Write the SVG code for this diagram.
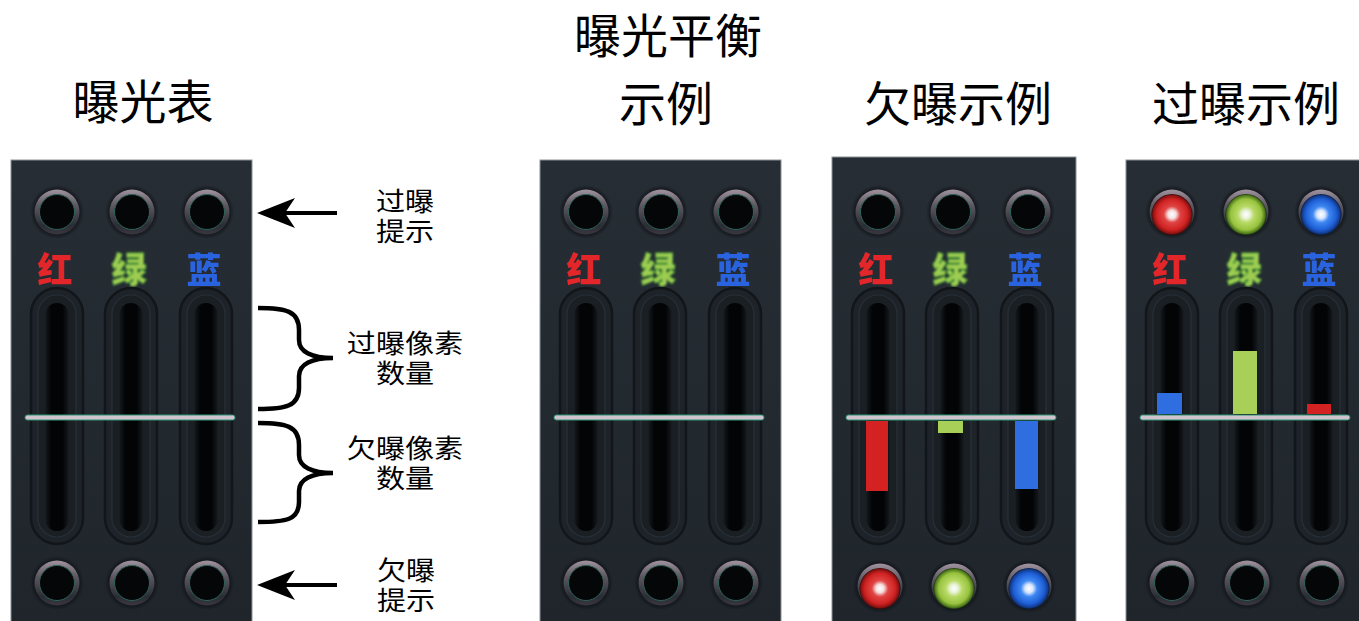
<svg xmlns="http://www.w3.org/2000/svg" xmlns:xlink="http://www.w3.org/1999/xlink" width="1359" height="621" viewBox="0 0 1359 621">
<style>
.title{font-family:"Noto Sans CJK SC","Noto Sans",sans-serif;font-size:47px;fill:#000;text-anchor:middle}
.side{font-family:"Liberation Sans","Noto Sans CJK SC",sans-serif;font-size:26px;fill:#000;text-anchor:middle}
.ch{font-family:"Noto Sans CJK SC",sans-serif;font-size:35px;font-weight:900;text-anchor:middle}
.panel{stroke:#8c9196;stroke-width:1}
.bar{filter:url(#soft)}
.conn{stroke:#000;fill:none}
</style>
<defs>
<linearGradient id="panelG" x1="0" y1="0" x2="0" y2="1">
<stop offset="0" stop-color="#262d34"/><stop offset="1" stop-color="#1f252b"/>
</linearGradient>
<radialGradient id="shadowG"><stop offset="0.75" stop-color="#0e1115"/><stop offset="1" stop-color="#0e1115" stop-opacity="0"/></radialGradient>
<linearGradient id="ringG" x1="0" y1="0" x2="0" y2="1">
<stop offset="0" stop-color="#a093a0"/><stop offset="0.35" stop-color="#5d5862"/><stop offset="0.8" stop-color="#2a2d35"/><stop offset="1" stop-color="#3a3640"/>
</linearGradient>
<linearGradient id="chanG" x1="0" y1="0" x2="1" y2="0">
<stop offset="0" stop-color="#15191e"/><stop offset="0.25" stop-color="#030405"/><stop offset="0.75" stop-color="#030405"/><stop offset="1" stop-color="#15191e"/>
</linearGradient>
<radialGradient id="litR"><stop offset="0" stop-color="#ffffff"/><stop offset="0.2" stop-color="#f4dede"/><stop offset="0.4" stop-color="#e04444"/><stop offset="0.75" stop-color="#d02222"/><stop offset="0.93" stop-color="#8a1212"/><stop offset="1" stop-color="#300808"/></radialGradient>
<radialGradient id="litG"><stop offset="0" stop-color="#ffffff"/><stop offset="0.2" stop-color="#e8f2d8"/><stop offset="0.4" stop-color="#b8da66"/><stop offset="0.75" stop-color="#98c23e"/><stop offset="0.93" stop-color="#4e7a1c"/><stop offset="1" stop-color="#1a300a"/></radialGradient>
<radialGradient id="litB"><stop offset="0" stop-color="#ffffff"/><stop offset="0.2" stop-color="#d8e6ff"/><stop offset="0.4" stop-color="#3e88f2"/><stop offset="0.75" stop-color="#1e5ed6"/><stop offset="0.93" stop-color="#123a8a"/><stop offset="1" stop-color="#08183a"/></radialGradient>
<filter id="soft" x="-20%" y="-20%" width="140%" height="140%"><feGaussianBlur stdDeviation="0.7"/></filter>
<filter id="glowG" x="-20%" y="-20%" width="140%" height="140%"><feGaussianBlur stdDeviation="0.8"/></filter>
<g id="ledOff">
<circle r="27" fill="url(#shadowG)"/>
<circle r="22.5" fill="url(#ringG)"/>
<circle r="17.5" fill="#050607" stroke="#2c6458" stroke-width="1"/>
</g>
<g id="ledR"><circle r="27" fill="url(#shadowG)"/><circle r="22.5" fill="url(#ringG)"/><circle cy="2.5" r="20.5" fill="url(#litR)"/></g>
<g id="ledG"><circle r="27" fill="url(#shadowG)"/><circle r="22.5" fill="url(#ringG)"/><circle cy="2.5" r="20.5" fill="url(#litG)"/></g>
<g id="ledB"><circle r="27" fill="url(#shadowG)"/><circle r="22.5" fill="url(#ringG)"/><circle cy="2.5" r="20.5" fill="url(#litB)"/></g>
<g id="slot">
<rect x="-26" y="288" width="52" height="256" rx="26" fill="#1d2329" stroke="#12161a" stroke-width="2.5"/>
<rect x="-19" y="295" width="38" height="242" rx="19" fill="#1a1f24" stroke="#283037" stroke-width="1.2"/>
<rect x="-11.5" y="303" width="23" height="228" rx="11.5" fill="url(#chanG)"/>
</g>
<g id="labels">
<text class="ch" x="55" y="283" fill="#e2282a" filter="url(#soft)">红</text>
<text class="ch" x="129" y="283" fill="#a2cc52" stroke="#4fb33a" stroke-width="0.8" filter="url(#glowG)">绿</text>
<text class="ch" x="204" y="283" fill="#2c64e0" filter="url(#soft)">蓝</text>
</g>
<g id="slots">
<use xlink:href="#slot" x="57"/><use xlink:href="#slot" x="131"/><use xlink:href="#slot" x="206"/>
</g>
<rect id="zero" x="25" y="415" width="210" height="5" rx="2.5" fill="#cfc3cd" stroke="#2f9474" stroke-width="1"/>
<marker id="arrowHead" markerUnits="userSpaceOnUse" markerWidth="40" markerHeight="32" viewBox="0 0 40 32" refX="30" refY="16" orient="auto">
<path d="M0,1 L38,16 L0,31 L10,16 Z" fill="#000"/>
</marker>
</defs>
<rect width="1359" height="621" fill="#fff"/>

<g id="titles">
<text class="title" x="143" y="119">曝光表</text>
<text class="title" x="668" y="53">曝光平衡</text>
<text class="title" x="666" y="121">示例</text>
<text class="title" x="958" y="121">欠曝示例</text>
<text class="title" x="1246" y="121">过曝示例</text>
</g>

<g id="panel-meter">
<rect class="panel" x="11" y="160" width="241" height="470" fill="url(#panelG)"/>
<use xlink:href="#ledOff" x="57" y="212"/><use xlink:href="#ledOff" x="132" y="212"/><use xlink:href="#ledOff" x="207" y="212"/>
<use xlink:href="#labels"/>
<use xlink:href="#slots"/>
<use xlink:href="#zero"/>
<use xlink:href="#ledOff" x="57" y="583"/><use xlink:href="#ledOff" x="132" y="583"/><use xlink:href="#ledOff" x="207" y="583"/>
</g>

<g id="panel-balanced" transform="translate(529,0)">
<rect class="panel" x="11" y="160" width="241" height="470" fill="url(#panelG)"/>
<use xlink:href="#ledOff" x="57" y="212"/><use xlink:href="#ledOff" x="132" y="212"/><use xlink:href="#ledOff" x="207" y="212"/>
<use xlink:href="#labels"/>
<use xlink:href="#slots"/>
<use xlink:href="#zero"/>
<use xlink:href="#ledOff" x="57" y="583"/><use xlink:href="#ledOff" x="132" y="583"/><use xlink:href="#ledOff" x="207" y="583"/>
</g>

<g id="panel-under" transform="translate(821,0)">
<rect class="panel" x="11" y="157" width="244" height="473" fill="url(#panelG)"/>
<use xlink:href="#ledOff" x="57" y="212"/><use xlink:href="#ledOff" x="132" y="212"/><use xlink:href="#ledOff" x="207" y="212"/>
<use xlink:href="#labels"/>
<use xlink:href="#slots"/>
<rect class="bar" x="45" y="421" width="22" height="70" fill="#d42222"/>
<rect class="bar" x="117" y="421" width="25" height="12" fill="#a8d058"/>
<rect class="bar" x="194" y="421" width="23" height="68" fill="#2f6ee0"/>
<use xlink:href="#zero"/>
<use xlink:href="#ledR" x="59" y="586"/><use xlink:href="#ledG" x="133" y="586"/><use xlink:href="#ledB" x="208" y="586"/>
</g>

<g id="panel-over" transform="translate(1115,0)">
<rect class="panel" x="11" y="160" width="241" height="470" fill="url(#panelG)"/>
<use xlink:href="#ledR" x="57" y="212"/><use xlink:href="#ledG" x="131" y="212"/><use xlink:href="#ledB" x="206" y="212"/>
<use xlink:href="#labels"/>
<use xlink:href="#slots"/>
<rect class="bar" x="42" y="393" width="25" height="21" fill="#2f6ee0"/>
<rect class="bar" x="118" y="351" width="24" height="63" fill="#a8d058"/>
<rect class="bar" x="192" y="404" width="24" height="10" fill="#d42222"/>
<use xlink:href="#zero"/>
<use xlink:href="#ledOff" x="57" y="583"/><use xlink:href="#ledOff" x="132" y="583"/><use xlink:href="#ledOff" x="207" y="583"/>
</g>

<g id="connectors">
<line class="conn" x1="337" y1="213" x2="265" y2="213" stroke-width="4" marker-end="url(#arrowHead)"/>
<line class="conn" x1="337" y1="585" x2="265" y2="585" stroke-width="4" marker-end="url(#arrowHead)"/>
<path class="conn" stroke-width="4.5" d="M258,308 C286,308 299,311 299,330 L299,340 C299,352 312,358 333,358 C312,358 299,364 299,376 L299,388 C299,406 286,409 258,409"/>
<path class="conn" stroke-width="4.5" d="M258,423 C286,423 299,426 299,445 L299,455 C299,467 312,473 333,473 C312,473 299,479 299,491 L299,502 C299,520 286,522 258,522"/>
</g>

<g id="annotations">
<text class="side" transform="translate(405,0) scale(1.12,1)" x="0" y="211">过曝<tspan x="0" dy="30">提示</tspan></text>
<text class="side" transform="translate(405,0) scale(1.12,1)" x="0" y="353">过曝像素<tspan x="0" dy="30">数量</tspan></text>
<text class="side" transform="translate(405,0) scale(1.12,1)" x="0" y="458">欠曝像素<tspan x="0" dy="30">数量</tspan></text>
<text class="side" transform="translate(406,0) scale(1.12,1)" x="0" y="580">欠曝<tspan x="0" dy="30">提示</tspan></text>
</g>
</svg>
